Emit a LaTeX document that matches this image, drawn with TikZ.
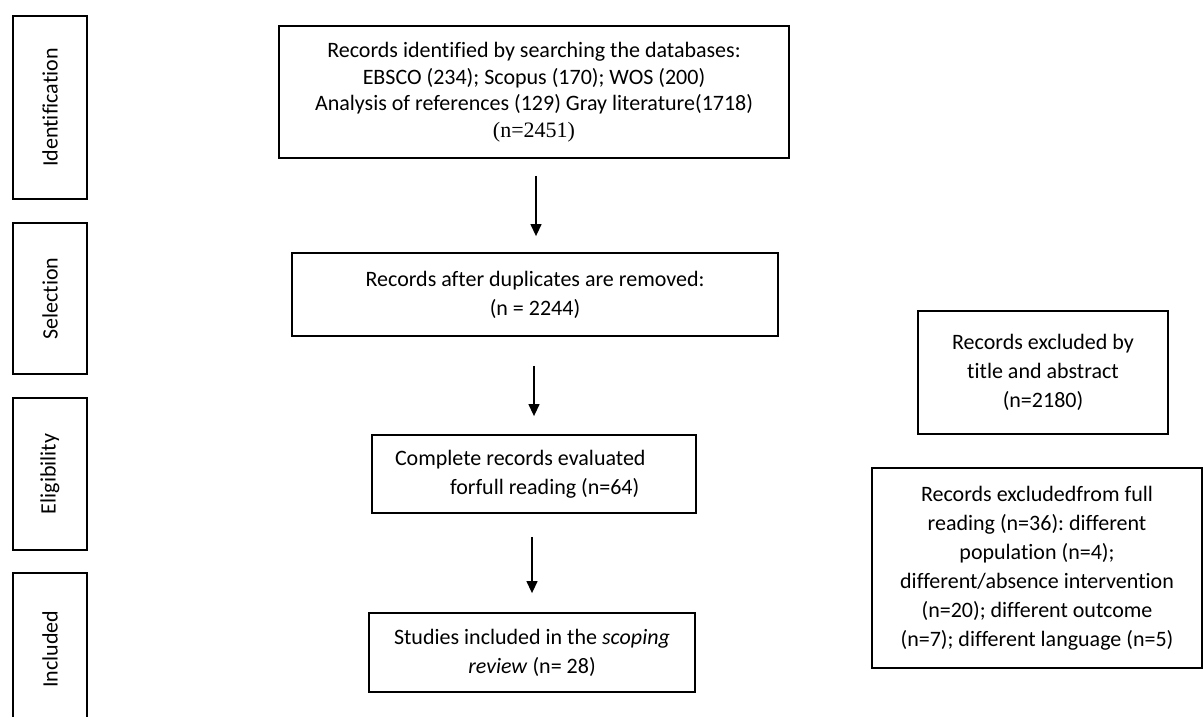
\documentclass[tikz,border=0pt]{standalone}
\usepackage{fontspec}
\setmainfont[Ligatures=CommonOff]{Carlito}
\newfontfamily\timesfont{Liberation Serif}
\usetikzlibrary{arrows.meta}
\frenchspacing
\begin{document}
\begin{tikzpicture}[x=1pt,y=-1pt,
  box/.style={draw, line width=1.8pt, inner sep=0pt, align=center, font=\fontsize{22}{29}\selectfont},
  phase/.style={draw, line width=1.8pt, inner sep=0pt, rotate=90, font=\fontsize{22}{26}\selectfont},
  phasetext/.style={inner sep=0pt, rotate=90, font=\fontsize{22}{26}\selectfont},
  arr/.style={line width=1.3pt, -{Triangle[width=11pt,length=12pt]}},
]
\useasboundingbox (0,0) rectangle (1204,717);

% phase boxes
\node[phase, minimum width=183pt, minimum height=74pt] (p1) at (50,107.5) {Identification};
\node[phase, minimum width=151pt, minimum height=74pt] (p2) at (50,298.5) {Selection};
\node[phase, minimum width=152pt, minimum height=74pt] (p3) at (50,474) {Eligibility};
\node[phasetext] (p4) at (50,649) {Included};
\draw[line width=1.8pt] (13,717) -- (13,573) -- (87,573) -- (87,717);

% main flow
\node[box, minimum width=510pt, minimum height=132pt, font=\fontsize{22}{26.5}\selectfont] (ident) at (534,92)
  {Records identified by searching the databases:\\EBSCO (234); Scopus (170); WOS (200)\\Analysis of references (129) Gray literature(1718)\\{\timesfont (n=2451)}};
\node[box, minimum width=486pt, minimum height=83pt] (sel) at (535,294.5)
  {Records after duplicates are removed:\\(n = 2244)};
\node[box, minimum width=324pt, minimum height=78pt] (elig) at (534,474)
  {\makebox[324pt][l]{\hspace*{23pt}Complete records evaluated}\\\makebox[324pt][l]{\hspace*{78pt}forfull reading (n=64)}};
\node[box, minimum width=326pt, minimum height=79pt] (incl) at (532,652.5)
  {Studies included in the \textit{scoping}\\\textit{review} (n= 28)};

% exclusions
\node[box, minimum width=250pt, minimum height=123pt] (excl1) at (1043,372.5)
  {Records excluded by\\title and abstract\\(n=2180)};
\node[box, minimum width=330pt, minimum height=200pt] (excl2) at (1037,568)
  {Records excludedfrom full\\reading (n=36): different\\population (n=4);\\different/absence intervention\\(n=20); different outcome\\(n=7); different language (n=5)};

% arrows
\draw[arr, shorten <=17pt, shorten >=16pt] ([xshift=2pt]ident.south) -- ([xshift=1pt]sel.north);
\draw[arr, shorten <=29pt, shorten >=18pt] ([xshift=-1pt]sel.south) -- (elig.north);
\draw[arr, shorten <=23pt, shorten >=19pt] ([xshift=-2pt]elig.south) -- (incl.north);
\end{tikzpicture}
\end{document}
